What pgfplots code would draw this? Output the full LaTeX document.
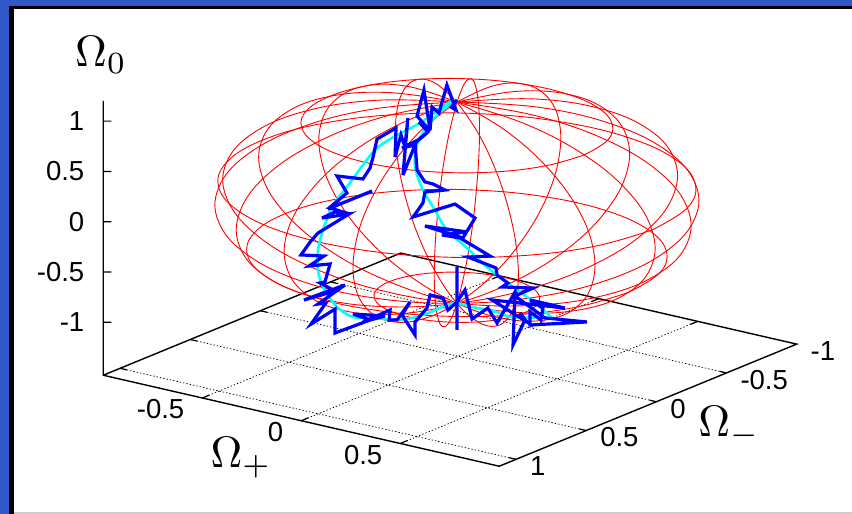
\documentclass[border=0pt]{standalone}
\usepackage{fontspec}
\setmainfont{Liberation Sans}
\usepackage{pgfplots}
\pgfplotsset{compat=1.18}
\definecolor{frameblue}{RGB}{48,88,200}
\definecolor{purecyan}{RGB}{0,255,255}
\definecolor{purered}{RGB}{255,0,0}
\definecolor{pureblue}{RGB}{0,0,255}
\begin{document}
\begin{tikzpicture}
\useasboundingbox (0,0) rectangle (852pt,514pt);
\fill[white] (0,0) rectangle (852pt,514pt);
\fill[black!20] (0,0) rectangle (852pt,1.5pt);
\fill[frameblue] (0,0) rectangle (9.3pt,514pt);
\fill[frameblue] (0,508.3pt) rectangle (852pt,514pt);
\fill[black] (9.3pt,0) rectangle (14pt,508.3pt);
\fill[black] (9.3pt,504.7pt) rectangle (852pt,508.3pt);
\begin{axis}[
  anchor=origin, at={(458.4pt,311.3pt)},
  disabledatascaling,
  x={(198pt,-45.5pt)}, y={(-140.3pt,-57.6pt)}, z={(0pt,100.6pt)},
  xmin=-1,xmax=1,ymin=-1,ymax=1.12,zmin=-1.526,zmax=1.2,
  clip=false,
  unbounded coords=jump,
  axis line style={draw=none},
  major tick length=0pt,
  xtick={-0.5,0,0.5}, ytick={-1,-0.5,0,0.5,1}, ztick={-1,-0.5,0,0.5,1},
  xticklabel pos=lower, yticklabel pos=left, zticklabel pos=left,
  /pgf/number format/assume math mode=true,
  tick label style={font=\fontsize{27.5}{27.5}\selectfont,inner sep=0pt,outer sep=0pt},
  xticklabel style={anchor=east,xshift=-18pt,yshift=-11.5pt},
  yticklabel style={anchor=west,xshift=14pt,yshift=-7pt},
  zticklabel style={anchor=east,xshift=-19pt,yshift=0pt},
  sph/.style={purered,line width=0.9pt,smooth,tension=0.66,no marks,xshift=-1.5pt},
]
% base grid
\addplot3[black,line width=0.7pt,dash pattern=on 1.4pt off 2pt,no marks] coordinates {
(-0.5,1.12,-1.526)(-0.5,-1,-1.526)(nan,nan,nan)
(0,1.12,-1.526)(0,-1,-1.526)(nan,nan,nan)
(0.5,1.12,-1.526)(0.5,-1,-1.526)(nan,nan,nan)
(-1,1,-1.526)(1,1,-1.526)(nan,nan,nan)
(-1,0.5,-1.526)(1,0.5,-1.526)(nan,nan,nan)
(-1,0,-1.526)(1,0,-1.526)(nan,nan,nan)
(-1,-0.5,-1.526)(1,-0.5,-1.526)
};
% border and tick marks
\addplot3[black,line width=1.4pt,no marks] coordinates {
(-1,1.12,1.2)(-1,1.12,-1.526)(1,1.12,-1.526)(1,-1,-1.526)(-1,-1,-1.526)(-1,1.12,-1.526)
};
\addplot3[black,line width=1.2pt,no marks] coordinates {
(-0.5,1.12,-1.526)(-0.5,1.07,-1.526)(nan,nan,nan)
(0,1.12,-1.526)(0,1.07,-1.526)(nan,nan,nan)
(0.5,1.12,-1.526)(0.5,1.07,-1.526)(nan,nan,nan)
(-0.5,-1,-1.526)(-0.5,-0.95,-1.526)(nan,nan,nan)
(0,-1,-1.526)(0,-0.95,-1.526)(nan,nan,nan)
(0.5,-1,-1.526)(0.5,-0.95,-1.526)(nan,nan,nan)
(1,1,-1.526)(0.965,1,-1.526)(nan,nan,nan)
(1,0.5,-1.526)(0.965,0.5,-1.526)(nan,nan,nan)
(1,0,-1.526)(0.965,0,-1.526)(nan,nan,nan)
(1,-0.5,-1.526)(0.965,-0.5,-1.526)(nan,nan,nan)
(-1,1,-1.526)(-0.965,1,-1.526)(nan,nan,nan)
(-1,0.5,-1.526)(-0.965,0.5,-1.526)(nan,nan,nan)
(-1,0,-1.526)(-0.965,0,-1.526)(nan,nan,nan)
(-1,-0.5,-1.526)(-0.965,-0.5,-1.526)(nan,nan,nan)
(-1,1.12,1)(-0.974,1.0995,1)(nan,nan,nan)
(-1,1.12,0.5)(-0.974,1.0995,0.5)(nan,nan,nan)
(-1,1.12,0)(-0.974,1.0995,0)(nan,nan,nan)
(-1,1.12,-0.5)(-0.974,1.0995,-0.5)(nan,nan,nan)
(-1,1.12,-1)(-0.974,1.0995,-1)
};
% sphere: meridians
\addplot3[sph] coordinates {(0,0,1)(.342,0,.94)(.643,0,.766)(.866,0,.5)(.985,0,.174)(.985,0,-.174)(.866,0,-.5)(.643,0,-.766)(.342,0,-.94)(0,0,-1)(-.342,0,-.94)(-.643,0,-.766)(-.866,0,-.5)(-.985,0,-.174)(-.985,0,.174)(-.866,0,.5)(-.643,0,.766)(-.342,0,.94)(0,0,1)};
\addplot3[sph] coordinates {(0,0,1)(.321,.117,.94)(.604,.22,.766)(.814,.296,.5)(.925,.337,.174)(.925,.337,-.174)(.814,.296,-.5)(.604,.22,-.766)(.321,.117,-.94)(0,0,-1)(-.321,-.117,-.94)(-.604,-.22,-.766)(-.814,-.296,-.5)(-.925,-.337,-.174)(-.925,-.337,.174)(-.814,-.296,.5)(-.604,-.22,.766)(-.321,-.117,.94)(0,0,1)};
\addplot3[sph] coordinates {(0,0,1)(.262,.22,.94)(.492,.413,.766)(.663,.557,.5)(.754,.633,.174)(.754,.633,-.174)(.663,.557,-.5)(.492,.413,-.766)(.262,.22,-.94)(0,0,-1)(-.262,-.22,-.94)(-.492,-.413,-.766)(-.663,-.557,-.5)(-.754,-.633,-.174)(-.754,-.633,.174)(-.663,-.557,.5)(-.492,-.413,.766)(-.262,-.22,.94)(0,0,1)};
\addplot3[sph] coordinates {(0,0,1)(.171,.296,.94)(.321,.557,.766)(.433,.75,.5)(.492,.853,.174)(.492,.853,-.174)(.433,.75,-.5)(.321,.557,-.766)(.171,.296,-.94)(0,0,-1)(-.171,-.296,-.94)(-.321,-.557,-.766)(-.433,-.75,-.5)(-.492,-.853,-.174)(-.492,-.853,.174)(-.433,-.75,.5)(-.321,-.557,.766)(-.171,-.296,.94)(0,0,1)};
\addplot3[sph] coordinates {(0,0,1)(.059,.337,.94)(.112,.633,.766)(.15,.853,.5)(.171,.97,.174)(.171,.97,-.174)(.15,.853,-.5)(.112,.633,-.766)(.059,.337,-.94)(0,0,-1)(-.059,-.337,-.94)(-.112,-.633,-.766)(-.15,-.853,-.5)(-.171,-.97,-.174)(-.171,-.97,.174)(-.15,-.853,.5)(-.112,-.633,.766)(-.059,-.337,.94)(0,0,1)};
\addplot3[sph] coordinates {(0,0,1)(-.059,.337,.94)(-.112,.633,.766)(-.15,.853,.5)(-.171,.97,.174)(-.171,.97,-.174)(-.15,.853,-.5)(-.112,.633,-.766)(-.059,.337,-.94)(0,0,-1)(.059,-.337,-.94)(.112,-.633,-.766)(.15,-.853,-.5)(.171,-.97,-.174)(.171,-.97,.174)(.15,-.853,.5)(.112,-.633,.766)(.059,-.337,.94)(0,0,1)};
\addplot3[sph] coordinates {(0,0,1)(-.171,.296,.94)(-.321,.557,.766)(-.433,.75,.5)(-.492,.853,.174)(-.492,.853,-.174)(-.433,.75,-.5)(-.321,.557,-.766)(-.171,.296,-.94)(0,0,-1)(.171,-.296,-.94)(.321,-.557,-.766)(.433,-.75,-.5)(.492,-.853,-.174)(.492,-.853,.174)(.433,-.75,.5)(.321,-.557,.766)(.171,-.296,.94)(0,0,1)};
\addplot3[sph] coordinates {(0,0,1)(-.262,.22,.94)(-.492,.413,.766)(-.663,.557,.5)(-.754,.633,.174)(-.754,.633,-.174)(-.663,.557,-.5)(-.492,.413,-.766)(-.262,.22,-.94)(0,0,-1)(.262,-.22,-.94)(.492,-.413,-.766)(.663,-.557,-.5)(.754,-.633,-.174)(.754,-.633,.174)(.663,-.557,.5)(.492,-.413,.766)(.262,-.22,.94)(0,0,1)};
\addplot3[sph] coordinates {(0,0,1)(-.321,.117,.94)(-.604,.22,.766)(-.814,.296,.5)(-.925,.337,.174)(-.925,.337,-.174)(-.814,.296,-.5)(-.604,.22,-.766)(-.321,.117,-.94)(0,0,-1)(.321,-.117,-.94)(.604,-.22,-.766)(.814,-.296,-.5)(.925,-.337,-.174)(.925,-.337,.174)(.814,-.296,.5)(.604,-.22,.766)(.321,-.117,.94)(0,0,1)};
% sphere: parallels
\addplot3[sph] coordinates {(.643,0,.766)(.604,.22,.766)(.492,.413,.766)(.321,.557,.766)(.112,.633,.766)(-.112,.633,.766)(-.321,.557,.766)(-.492,.413,.766)(-.604,.22,.766)(-.643,0,.766)(-.604,-.22,.766)(-.492,-.413,.766)(-.321,-.557,.766)(-.112,-.633,.766)(.112,-.633,.766)(.321,-.557,.766)(.492,-.413,.766)(.604,-.22,.766)(.643,0,.766)};
\addplot3[sph] coordinates {(.985,0,.174)(.925,.337,.174)(.754,.633,.174)(.492,.853,.174)(.171,.97,.174)(-.171,.97,.174)(-.492,.853,.174)(-.754,.633,.174)(-.925,.337,.174)(-.985,0,.174)(-.925,-.337,.174)(-.754,-.633,.174)(-.492,-.853,.174)(-.171,-.97,.174)(.171,-.97,.174)(.492,-.853,.174)(.754,-.633,.174)(.925,-.337,.174)(.985,0,.174)};
\addplot3[sph] coordinates {(.866,0,-.5)(.814,.296,-.5)(.663,.557,-.5)(.433,.75,-.5)(.15,.853,-.5)(-.15,.853,-.5)(-.433,.75,-.5)(-.663,.557,-.5)(-.814,.296,-.5)(-.866,0,-.5)(-.814,-.296,-.5)(-.663,-.557,-.5)(-.433,-.75,-.5)(-.15,-.853,-.5)(.15,-.853,-.5)(.433,-.75,-.5)(.663,-.557,-.5)(.814,-.296,-.5)(.866,0,-.5)};
\addplot3[sph] coordinates {(.342,0,-.94)(.321,.117,-.94)(.262,.22,-.94)(.171,.296,-.94)(.059,.337,-.94)(-.059,.337,-.94)(-.171,.296,-.94)(-.262,.22,-.94)(-.321,.117,-.94)(-.342,0,-.94)(-.321,-.117,-.94)(-.262,-.22,-.94)(-.171,-.296,-.94)(-.059,-.337,-.94)(.059,-.337,-.94)(.171,-.296,-.94)(.262,-.22,-.94)(.321,-.117,-.94)(.342,0,-.94)};
% ideal path
\addplot3[purecyan,line width=2.6pt,smooth,no marks] coordinates {
(-.002,0,1.020)(-.053,0,.967)(-.194,0,.704)(-.310,0,.533)(-.411,0,.358)(-.482,0,.157)(-.563,0,-.098)(-.633,0,-.309)(-.679,0,-.549)(-.709,0,-.791)(-.709,0,-.990)(-.684,0,-1.147)(-.613,0,-1.314)(-.532,0,-1.377)(-.431,0,-1.341)(-.295,0,-1.299)(-.179,0,-1.197)(-.093,0,-1.089)(-.017,0,-1.005)(.094,0,-1.005)(.195,0,-.998)(.271,0,-1.014)(.473,0,-.932)
};
\addplot3[purecyan,line width=2.6pt,smooth,no marks] coordinates {
(.473,0,-.932)(.387,0,-.822)(.250,0,-.685)(.144,0,-.574)(.043,0,-.430)(-.058,0,-.297)(-.128,0,-.101)(-.179,0,.045)(-.219,0,.256)(-.209,0,.479)(-.154,0,.703)(-.068,0,.910)(-.002,0,1.020)
};
% noisy path
\addplot3[pureblue,line width=3.2pt,line join=miter,miter limit=6,no marks] coordinates {
(-.007,0,1.018)(-.037,0,.934)(-.012,0,.916)(-.058,0,1.144)(-.098,0,.848)(-.133,0,.891)(-.143,0,.658)(-.174,0,1.041)(-.209,0,.767)(-.143,0,.648)(-.199,0,.712)(-.154,0,.634)(-.204,0,.531)(-.285,0,.415)(-.219,0,.475)(-.280,0,.148)(-.255,0,.727)(-.270,0,.432)(-.290,0,.542)(-.320,0,.309)(-.315,0,.600)(-.411,0,.447)(-.431,0,.259)(-.446,0,.143)(-.482,0,.018)(-.613,0,-.012)(-.563,0,-.158)(-.659,0,-.361)(-.436,0,-.081)(-.648,0,-.346)(-.547,0,-.360)(-.623,0,-.374)(-.689,0,-.464)(-.552,0,-.362)(-.709,0,-.622)(-.749,0,-.730)(-.795,0,-.879)(-.679,0,-.837)(-.754,0,-.970)(-.648,0,-.902)(-.674,0,-1.093)(-.699,0,-1.114)(-.623,0,-1.160)(-.780,0,-1.320)(-.573,0,-1.077)(-.709,0,-1.328)(-.669,0,-1.299)(-.744,0,-1.543)(-.623,0,-1.339)(-.623,0,-1.577)(-.446,0,-1.368)(-.532,0,-1.347)(-.371,0,-1.294)(-.482,0,-1.404)(-.345,0,-1.223)(-.350,0,-1.325)(-.310,0,-1.306)(-.244,0,-1.098)(-.285,0,-1.245)(-.219,0,-1.414)(-.219,0,-1.285)(-.159,0,-1.119)(-.143,0,-.982)(-.078,0,-.982)(-.053,0,-1.091)(-.007,0,-.990)(-.007,0,-.642)(-.007,0,-1.268)(-.007,0,-.990)(.033,0,-.853)(.069,0,-1.125)(.149,0,-.979)(.195,0,-1.108)(.286,0,-.759)(.276,0,-1.289)(.336,0,-1.014)(.311,0,-.955)(.346,0,-1.029)(.170,0,-.890)(.538,0,-.804)(.362,0,-.803)(.427,0,-.854)(.417,0,-.977)(.362,0,-.922)(.362,0,-1.052)(.649,0,-.892)(.437,0,-.948)(.286,0,-.798)(.377,0,-.678)(.220,0,-.738)(.250,0,-.685)(.195,0,-.631)(.190,0,-.563)(.048,0,-.518)(.160,0,-.458)(.008,0,-.347)(-.083,0,-.358)(.043,0,-.271)(-.169,0,-.308)(.023,0,-.340)(.084,0,-.114)(-.017,0,-.021)(-.229,0,-.246)(-.179,0,-.084)(-.169,0,.030)(-.068,0,.095)(-.128,0,.128)(-.169,0,.130)(-.209,0,.230)(-.219,0,.494)(-.159,0,.621)
};
\end{axis}
\node[scale=4.4] at (101pt,459pt) {$\Omega_0$};
\node[scale=4.4] at (241pt,56pt) {$\Omega_+$};
\node[scale=4.4] at (729pt,87pt) {$\Omega_-$};
\end{tikzpicture}
\end{document}
